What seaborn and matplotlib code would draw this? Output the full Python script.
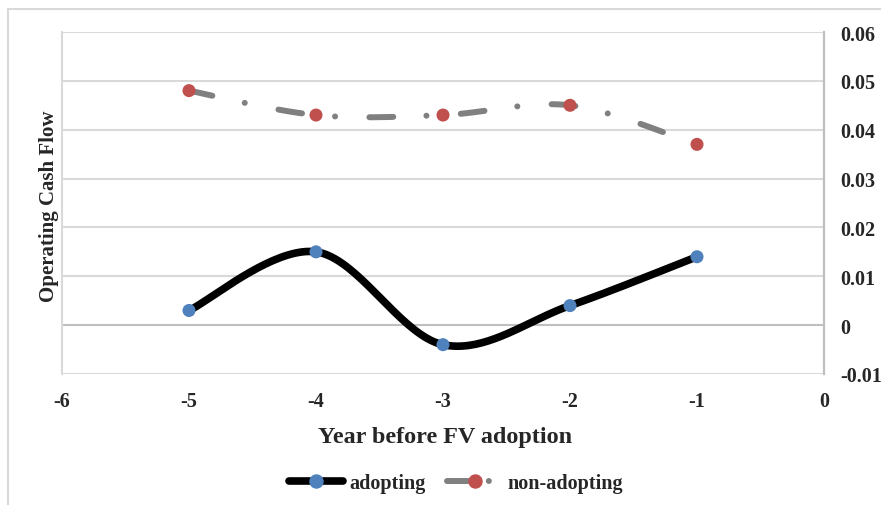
import numpy as np
import pandas as pd
import seaborn as sns
import matplotlib.pyplot as plt
from matplotlib.lines import Line2D
from matplotlib.patches import Rectangle

# Operating cash flow by year before fair value adoption
years = [-5, -4, -3, -2, -1]
adopting = [0.003, 0.015, -0.004, 0.004, 0.014]
non_adopting = [0.048, 0.043, 0.043, 0.045, 0.037]

x_ticks = [-6, -5, -4, -3, -2, -1, 0]
y_ticks = [-0.01, 0, 0.01, 0.02, 0.03, 0.04, 0.05, 0.06]
y_tick_labels = ["-0.01", "0", "0.01", "0.02", "0.03", "0.04", "0.05", "0.06"]

BLUE = "#4F81BD"
RED = "#C0504D"
GREY = "#808080"
GRID = "#D9D9D9"
AXIS = "#BFBFBF"
DASHDOT = (0, (4.0, 5.55, 0.01, 5.75))
DASHDOT_KEY = (0, (3.5, 3.5, 0.01, 10.0))


def smooth_curve(xs, ys, steps=40):
    """Cubic Bezier smoothing through the points (Catmull-Rom style)."""
    p = np.column_stack([xs, ys]).astype(float)
    p_ext = np.vstack([p[0], p, p[-1]])
    out = []
    t = np.linspace(0, 1, steps)[:, None]
    for i in range(len(p) - 1):
        p0, p1, p2, p3 = p_ext[i], p_ext[i + 1], p_ext[i + 2], p_ext[i + 3]
        c1 = p1 + (p2 - p0) / 6.0
        c2 = p2 - (p3 - p1) / 6.0
        seg = ((1 - t) ** 3) * p1 + 3 * ((1 - t) ** 2) * t * c1 \
            + 3 * (1 - t) * t ** 2 * c2 + t ** 3 * p2
        out.append(seg if i == 0 else seg[1:])
    pts = np.vstack(out)
    return pts[:, 0], pts[:, 1]


sns.set_theme(style="white")
plt.rcParams["font.family"] = ["Liberation Serif", "DejaVu Serif"]
plt.rcParams["font.weight"] = "bold"

fig = plt.figure(figsize=(8.81, 5.06), dpi=100)
ax = fig.add_axes([62 / 881, 1 - 375 / 506, (824 - 62) / 881, (375 - 33) / 506])

# outer chart frame
fig.patches.append(Rectangle((8 / 881, -0.1), 1.2, 1 - 10 / 506 + 0.1,
                             transform=fig.transFigure, fill=False,
                             edgecolor=GRID, linewidth=1.5, zorder=0))

ax.set_xlim(-6, 0)
ax.set_ylim(-0.01, 0.06)

# gridlines
for yv in y_ticks:
    ax.axhline(yv, color=AXIS if yv == 0 else GRID, linewidth=1.5, zorder=0)

# curves
ax_x, ax_y = smooth_curve(years, adopting)
na_x, na_y = smooth_curve(years, non_adopting)
df_a = pd.DataFrame({"x": ax_x, "y": ax_y})
df_n = pd.DataFrame({"x": na_x, "y": na_y})

sns.lineplot(data=df_a, x="x", y="y", ax=ax, sort=False, estimator=None,
             color="black", linewidth=5.5, solid_capstyle="round", zorder=2)
sns.lineplot(data=df_n, x="x", y="y", ax=ax, sort=False, estimator=None,
             color=GREY, linewidth=4.3, zorder=2)
line_n = ax.lines[-1]
line_n.set_linestyle(DASHDOT)
line_n.set_dash_capstyle("round")

pts = pd.DataFrame({"year": years, "adopting": adopting, "non_adopting": non_adopting})
sns.scatterplot(data=pts, x="year", y="adopting", ax=ax, color=BLUE, s=88,
                edgecolor="none", zorder=3)
sns.scatterplot(data=pts, x="year", y="non_adopting", ax=ax, color=RED, s=88,
                edgecolor="none", zorder=3)

# axes styling
for side in ["top", "bottom"]:
    ax.spines[side].set_visible(False)
ax.spines["left"].set_color(GRID)
ax.spines["left"].set_linewidth(1.5)
ax.spines["right"].set_color(AXIS)
ax.spines["right"].set_linewidth(1.6)

ax.set_xticks(x_ticks)
ax.set_xticklabels([str(v) for v in x_ticks], fontsize=14.5, fontweight="bold")
ax.yaxis.tick_right()
ax.set_yticks(y_ticks)
ax.set_yticklabels(y_tick_labels, fontsize=14.5, fontweight="bold")
ax.tick_params(axis="x", length=0, pad=12)
ax.tick_params(axis="y", length=0, pad=11.5)
for lab in ax.get_yticklabels():
    lab.set_horizontalalignment("left")

ax.set_xlabel("")
ax.set_ylabel("")
fig.text(445 / 881, 1 - 438 / 506, "Year before FV adoption",
         ha="center", va="center", fontsize=17.4, fontweight="bold")
fig.text(49 / 881, 1 - 206 / 506, "Operating Cash Flow", rotation=90,
         ha="center", va="center", fontsize=15, fontweight="bold")

handles = [
    Line2D([], [], color="black", linewidth=5.5, solid_capstyle="round",
           marker="o", markersize=9.4, markerfacecolor=BLUE, markeredgecolor=BLUE),
    Line2D([], [], color=GREY, linewidth=4.3, linestyle=DASHDOT_KEY,
           dash_capstyle="round", marker="o", markersize=9.4,
           markerfacecolor=RED, markeredgecolor=RED),
]
fig.legend(handles, ["adopting", "non-adopting"], loc="center",
           bbox_to_anchor=(456 / 881, 1 - 484 / 506), ncol=2, frameon=False,
           prop={"family": "Liberation Serif", "weight": "bold", "size": 14.5},
           handlelength=2.7, handletextpad=0.3, columnspacing=1.1)

fig.savefig("out.png", dpi=100)
